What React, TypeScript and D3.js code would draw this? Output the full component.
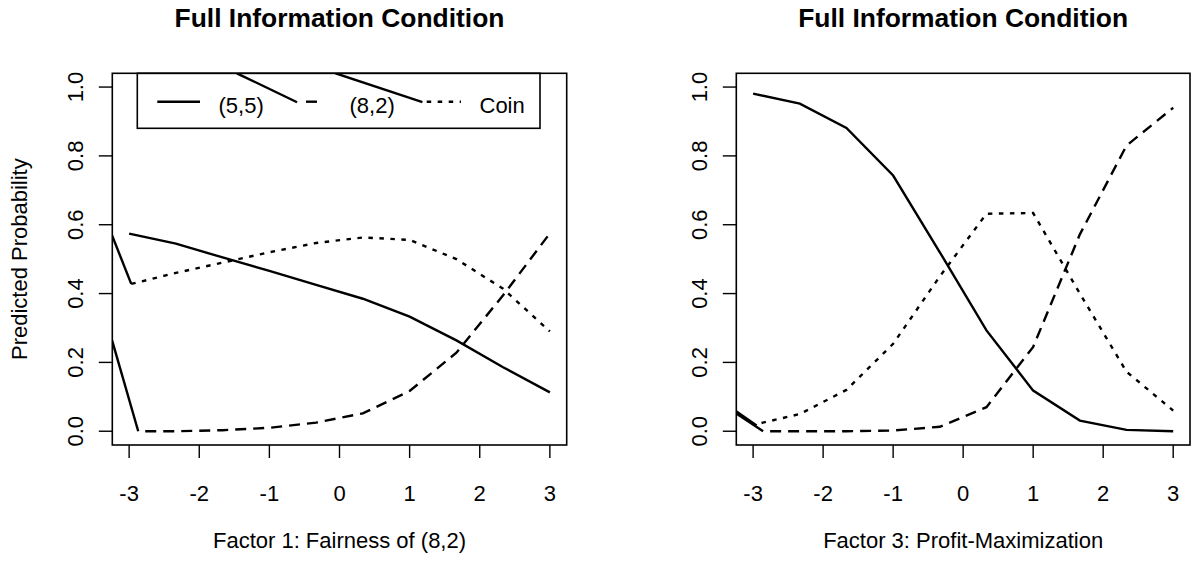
import React from "react";
import * as d3 from "d3";

// ---- data ----
const xGrid = [-3, -2.333, -1.667, -1, -0.333, 0.333, 1, 1.667, 2.333, 3];
const xTicks = [-3, -2, -1, 0, 1, 2, 3];
const yTicks = [0, 0.2, 0.4, 0.6, 0.8, 1.0];
const yTickLabels = ["0.0", "0.2", "0.4", "0.6", "0.8", "1.0"];
const seriesNames = ["(5,5)", "(8,2)", "Coin"];
const panelTitles = ["Full Information Condition", "Full Information Condition"];
const xLabels = ["Factor 1: Fairness of (8,2)", "Factor 3: Profit-Maximization"];
const yLabel = "Predicted Probability";

// Factor 1 panel
const f1X55 = xGrid;
const f1Y55 = [0.574, 0.545, 0.505, 0.466, 0.425, 0.385, 0.333, 0.264, 0.186, 0.113];
const f1X82 = [-2.87, -2.333, -1.667, -1, -0.333, 0.333, 1, 1.667, 2.333, 3];
const f1Y82 = [0.0, 0.0, 0.003, 0.01, 0.025, 0.052, 0.117, 0.228, 0.395, 0.575];
const f1XCoin = [-2.97, -2.333, -1.667, -1, -0.333, 0.333, 1, 1.667, 2.333, 3];
const f1YCoin = [0.428, 0.46, 0.49, 0.52, 0.547, 0.563, 0.556, 0.5, 0.414, 0.29];
// stray segments (clipped at the frame)
const f1Stray: [number, number][][] = [
  [[-3.243, 0.569], [-2.97, 0.428]],
  [[-3.243, 0.264], [-2.87, 0.0]],
  [[-1.464, 1.04], [-0.605, 0.956]],
  [[-0.057, 1.04], [1.183, 0.956]],
];

// Factor 3 panel
const f3X55 = xGrid;
const f3Y55 = [0.981, 0.952, 0.881, 0.743, 0.52, 0.293, 0.118, 0.031, 0.004, 0.0];
const f3X82 = [-2.857, -2.333, -1.667, -1, -0.333, 0.333, 1, 1.667, 2.333, 3];
const f3Y82 = [0.0, 0.0, 0.0, 0.002, 0.013, 0.07, 0.245, 0.572, 0.83, 0.94];
const f3XCoin = [-2.88, -2.333, -1.667, -1, -0.333, 0.333, 1, 1.667, 2.333, 3];
const f3YCoin = [0.024, 0.05, 0.12, 0.254, 0.45, 0.632, 0.634, 0.4, 0.173, 0.06];
const f3Stray: [number, number][][] = [
  [[-3.243, 0.058], [-2.95, 0.017]],
  [[-3.243, 0.052], [-2.857, 0.0]],
];

const W = 1193;
const H = 563;
const FONT = "'Liberation Sans', Arial, Helvetica, sans-serif";
const DASH = "11,7";
const DOT = "4.5,6.5";
const LW = 2.4;

type Panel = {
  left: number;
  right: number;
  series: { x: number[]; y: number[]; dash: string | null }[];
  stray: [number, number][][];
  title: string;
  xlab: string;
  ylab: string | null;
  legend: boolean;
};

const panels: Panel[] = [
  {
    left: 112.3,
    right: 566.7,
    series: [
      { x: f1X55, y: f1Y55, dash: null },
      { x: f1X82, y: f1Y82, dash: DASH },
      { x: f1XCoin, y: f1YCoin, dash: DOT },
    ],
    stray: f1Stray,
    title: panelTitles[0],
    xlab: xLabels[0],
    ylab: yLabel,
    legend: true,
  },
  {
    left: 736.3,
    right: 1190,
    series: [
      { x: f3X55, y: f3Y55, dash: null },
      { x: f3X82, y: f3Y82, dash: DASH },
      { x: f3XCoin, y: f3YCoin, dash: DOT },
    ],
    stray: f3Stray,
    title: panelTitles[1],
    xlab: xLabels[1],
    ylab: null,
    legend: false,
  },
];

const TOP = 73.3;
const BOTTOM = 445;

function PanelView({ p, idx }: { p: Panel; idx: number }) {
  const x = d3.scaleLinear().domain([-3.24, 3.24]).range([p.left, p.right]);
  const y = d3.scaleLinear().domain([-0.04, 1.04]).range([BOTTOM, TOP]);
  const line = d3
    .line<[number, number]>()
    .x((d) => x(d[0]))
    .y((d) => y(d[1]));
  const cx = (p.left + p.right) / 2;
  const cy = (TOP + BOTTOM) / 2;
  const clipId = `clip-${idx}`;
  return (
    <g>
      <defs>
        <clipPath id={clipId}>
          <rect x={p.left} y={TOP} width={p.right - p.left} height={BOTTOM - TOP} />
        </clipPath>
      </defs>
      <g clipPath={`url(#${clipId})`}>
        {p.series.map((s, i) => (
          <path
            key={i}
            d={line(s.x.map((xv, j) => [xv, s.y[j]] as [number, number])) || ""}
            fill="none"
            stroke="#000"
            strokeWidth={LW}
            strokeDasharray={s.dash || undefined}
            strokeDashoffset={s.dash === DASH ? 11 : 0}
          />
        ))}
        {p.stray.map((seg, i) => (
          <path key={"s" + i} d={line(seg) || ""} fill="none" stroke="#000" strokeWidth={LW} />
        ))}
      </g>
      {/* frame */}
      <rect
        x={p.left}
        y={TOP}
        width={p.right - p.left}
        height={BOTTOM - TOP}
        fill="none"
        stroke="#000"
        strokeWidth={1.6}
      />
      {/* x axis */}
      {xTicks.map((t) => (
        <g key={"xt" + t}>
          <line x1={x(t)} x2={x(t)} y1={BOTTOM} y2={BOTTOM + 13} stroke="#000" strokeWidth={1.4} />
          <text x={x(t)} y={501} textAnchor="middle" fontSize={22} fontFamily={FONT}>
            {String(t)}
          </text>
        </g>
      ))}
      {/* y axis */}
      {yTicks.map((t, i) => (
        <g key={"yt" + t}>
          <line x1={p.left - 13.5} x2={p.left} y1={y(t)} y2={y(t)} stroke="#000" strokeWidth={1.4} />
          <text
            transform={`translate(${p.left - 29},${y(t)}) rotate(-90)`}
            textAnchor="middle"
            fontSize={22}
            fontFamily={FONT}
          >
            {yTickLabels[i]}
          </text>
        </g>
      ))}
      <text x={cx} y={27.3} textAnchor="middle" fontSize={26.4} fontWeight="bold" fontFamily={FONT}>
        {p.title}
      </text>
      <text x={cx} y={548} textAnchor="middle" fontSize={22} fontFamily={FONT}>
        {p.xlab}
      </text>
      {p.ylab && (
        <text
          transform={`translate(${p.left - 85.6},${cy}) rotate(-90)`}
          textAnchor="middle"
          fontSize={22}
          fontFamily={FONT}
        >
          {p.ylab}
        </text>
      )}
      {p.legend && (
        <g>
          <rect x={137.3} y={TOP} width={402.7} height={55} fill="none" stroke="#000" strokeWidth={1.6} />
          <line x1={157.3} x2={200} y1={101.7} y2={101.7} stroke="#000" strokeWidth={LW} />
          <line x1={306} x2={317} y1={101.7} y2={101.7} stroke="#000" strokeWidth={LW} />
          <line
            x1={426.7}
            x2={461}
            y1={101.7}
            y2={101.7}
            stroke="#000"
            strokeWidth={LW}
            strokeDasharray={DOT}
          />
          {seriesNames.map((n, i) => (
            <text key={n} x={[218.5, 349.5, 479.5][i]} y={113} fontSize={22} fontFamily={FONT}>
              {n}
            </text>
          ))}
        </g>
      )}
    </g>
  );
}

export default function App() {
  return (
    <div style={{ position: "absolute", left: 0, top: 0 }}>
      <svg width={W} height={H} style={{ display: "block", background: "#fff" }}>
        <rect width={W} height={H} fill="#fff" />
        {panels.map((p, i) => (
          <PanelView key={i} p={p} idx={i} />
        ))}
      </svg>
    </div>
  );
}
